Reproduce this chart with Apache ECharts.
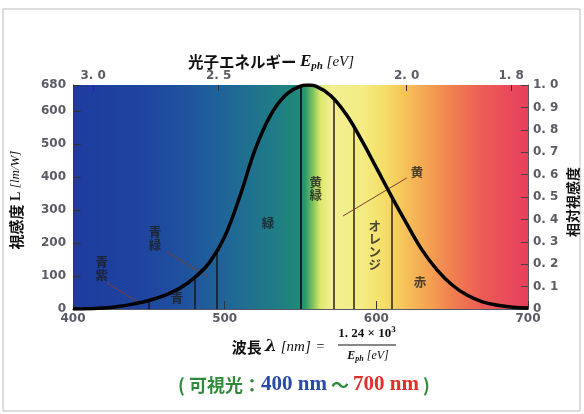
<!DOCTYPE html>
<html><head><meta charset="utf-8">
<script src="https://cdn.jsdelivr.net/npm/echarts@6/dist/echarts.min.js"></script>
<style>html,body{margin:0;padding:0;background:#fff}#c{width:584px;height:414px}</style>
</head><body><div id="c"></div>
<script>
// wavelength samples (nm) and relative luminous efficiency
const wavelengths = [400,410,420,430,440,450,460,470,480,490,500,510,520,530,540,550,555,560,570,580,590,600,610,620,630,640,650,660,670,680,690,700];
const relLum      = [0.0004,0.0012,0.004,0.0116,0.023,0.038,0.06,0.091,0.139,0.208,0.323,0.503,0.71,0.862,0.954,0.995,1.0,0.995,0.952,0.87,0.757,0.631,0.503,0.381,0.265,0.175,0.107,0.061,0.032,0.017,0.0082,0.0041];
// colour band boundaries (nm) and the curve height there
const boundaries   = [450,480,495,550,572,585,610];
const boundaryRel  = [0.038,0.139,0.259,0.995,0.937,0.816,0.503];
// photon energy ticks (eV) on top axis
const energyTicks  = [3.0,2.5,2.0,1.8];
// band names and their positions [nm, relative]
const bandNames  = ['青\n紫','青\n緑','青','緑','黄\n緑','黄','オ\nレ\nン\nジ','赤'];
const bandPos    = [[419,0.178],[454,0.312],[468.6,0.049],[528.6,0.384],[560,0.535],[626.8,0.612],[599,0.281],[628.8,0.121]];
// leader lines [from, to] in [nm, relative]
const leaders = [[[422.4,0.116],[446,0.018]],[[462,0.254],[489,0.143]],[[620,0.585],[578,0.415]]];
// spectrum colours
const spectrumNm  = [400,440,470,500,530,548,553,558,563,570,590,605,620,635,650,670,690,700];
const spectrumCol = ['#1e3c9e','#1f42a0','#1f509e','#1f6598','#1f7a88','#1f8878','#2a9868','#7cc060','#dce86a','#f2f094','#f4ec84','#f5de68','#f5c058','#f4a052','#f08050','#ec5c56','#e9485a','#e8405a'];

const labelColor = '#5b5b66';
const chart = echarts.init(document.getElementById('c'));
const fmtDec = v => v === 0 ? '0' : v.toFixed(1).replace('.', '. ');
const gradient = new echarts.graphic.LinearGradient(0,0,1,0,
  spectrumNm.map((nm,i)=>({offset:(nm-400)/300, color:spectrumCol[i]})));
const topTickLen = 6/224; // short inward tick, in relative units

chart.setOption({
  animation:false,
  backgroundColor:'#fff',
  grid:{left:73,right:56,top:85,bottom:105,show:true,backgroundColor:gradient,borderWidth:0},
  xAxis:[
    {type:'value',position:'bottom',min:400,max:700,interval:100,
     axisLine:{show:true,lineStyle:{color:'#333',width:1}},
     axisTick:{show:true,inside:true,length:8,lineStyle:{color:'#333'}},
     axisLabel:{color:labelColor,fontFamily:'DejaVu Sans',fontWeight:'bold',fontSize:12,margin:4},
     splitLine:{show:false}},
    {type:'value',position:'top',min:400,max:700,
     axisLine:{show:true,lineStyle:{color:'#556',width:1}},
     axisTick:{show:false},
     axisLabel:{color:labelColor,fontFamily:'DejaVu Sans',fontWeight:'bold',fontSize:12,margin:3,
       customValues:energyTicks.map(e=>1240/e),
       formatter:v=>{const e=energyTicks.reduce((a,b)=>Math.abs(1240/b-v)<Math.abs(1240/a-v)?b:a);return e.toFixed(1).replace('.','. ');}},
     splitLine:{show:false}}
  ],
  yAxis:[
    {type:'value',position:'left',min:0,max:680,interval:100,
     axisLine:{show:true,lineStyle:{color:'#334',width:1}},
     axisTick:{show:true,inside:true,length:8,lineStyle:{color:'#333'}},
     axisLabel:{color:labelColor,fontFamily:'DejaVu Sans',fontWeight:'bold',fontSize:12,margin:7},
     splitLine:{show:false}},
    {type:'value',position:'right',min:0,max:1,interval:0.1,
     axisLine:{show:true,lineStyle:{color:'#556',width:1}},
     axisTick:{show:true,inside:true,length:7,lineStyle:{color:'#444'}},
     axisLabel:{color:labelColor,fontFamily:'DejaVu Sans',fontWeight:'bold',fontSize:12,margin:5,formatter:fmtDec},
     splitLine:{show:false}}
  ],
  series:[
    {type:'line',yAxisIndex:1,data:wavelengths.map((w,i)=>[w,relLum[i]]),smooth:0.4,symbol:'none',
     lineStyle:{color:'#000',width:3.5},z:5,
     markLine:{silent:true,symbol:'none',label:{show:false},
       data:boundaries.map((b,i)=>[{coord:[b,0],lineStyle:{color:i>=4?'#3a2a1a':'#1a1a2a',width:i===3?2:1.6,type:'solid'}},{coord:[b,boundaryRel[i]]}])
         .concat(leaders.map(l=>[{coord:l[0],lineStyle:{color:'#7a4030',width:1,type:'solid'}},{coord:l[1]}]))
         .concat(energyTicks.map(e=>[{coord:[1240/e,1],lineStyle:{color:'#333',width:1,type:'solid'}},{coord:[1240/e,1-topTickLen]}]))}},
    {type:'scatter',yAxisIndex:1,symbolSize:0,z:6,
     data:bandPos.map((p,i)=>({value:p,name:bandNames[i]})),
     label:{show:true,position:'inside',formatter:p=>p.name,color:'#1e1e1e',fontSize:12.5,lineHeight:13,
       fontFamily:'Noto Sans CJK JP',fontWeight:'bold'}}
  ],
  graphic:[
    {type:'text',style:{x:271,y:62,align:'center',verticalAlign:'middle',
      text:'{a|光子エネルギー }{e|E}{s|ph}{u| [eV]}',
      rich:{a:{fontFamily:'Noto Sans CJK JP',fontWeight:'bold',fontSize:15.5,fill:'#111'},
            e:{fontFamily:'Liberation Serif',fontStyle:'italic',fontWeight:'bold',fontSize:17,fill:'#111'},
            s:{fontFamily:'Liberation Serif',fontStyle:'italic',fontWeight:'bold',fontSize:11,fill:'#111',padding:[8,0,0,0]},
            u:{fontFamily:'Liberation Serif',fontStyle:'italic',fontSize:15,fill:'#111'}}}},
    {type:'text',rotation:Math.PI/2,x:16,y:200,style:{x:0,y:0,align:'center',verticalAlign:'middle',
      text:'{a|視感度 }{b|L }{c|[lm/W]}',
      rich:{a:{fontFamily:'Noto Sans CJK JP',fontWeight:'bold',fontSize:15,fill:'#111'},
            b:{fontFamily:'Liberation Serif',fontWeight:'bold',fontSize:14,fill:'#111'},
            c:{fontFamily:'Liberation Serif',fontStyle:'italic',fontSize:13,fill:'#111'}}}},
    {type:'text',rotation:Math.PI/2,x:573,y:202,style:{x:0,y:0,align:'center',verticalAlign:'middle',
      text:'相対視感度',font:'bold 14px "Noto Sans CJK JP"',fill:'#111'}},
    {type:'text',style:{x:278,y:347,align:'center',verticalAlign:'middle',
      text:'{a|波長 }{b|λ}{c| [nm] }{d|=}',
      rich:{a:{fontFamily:'Noto Sans CJK JP',fontWeight:'bold',fontSize:15,fill:'#111'},
            b:{fontFamily:'DejaVu Serif',fontStyle:'italic',fontWeight:'bold',fontSize:17,fill:'#111'},
            c:{fontFamily:'Liberation Serif',fontStyle:'italic',fontSize:15,fill:'#111'},
            d:{fontFamily:'Liberation Serif',fontSize:14,fill:'#111',padding:[0,0,0,2]}}}},
    {type:'text',style:{x:367,y:334,align:'center',verticalAlign:'middle',
      text:'{a|1. 24 × 10}{b|3}',
      rich:{a:{fontFamily:'Liberation Serif',fontWeight:'bold',fontSize:13,fill:'#111'},
            b:{fontFamily:'Liberation Serif',fontWeight:'bold',fontSize:9,fill:'#111',padding:[0,0,8,0]}}}},
    {type:'line',shape:{x1:338,y1:345,x2:396,y2:345},style:{stroke:'#111',lineWidth:1}},
    {type:'text',style:{x:368,y:356,align:'center',verticalAlign:'middle',
      text:'{e|E}{s|ph}{u| [eV]}',
      rich:{e:{fontFamily:'Liberation Serif',fontStyle:'italic',fontWeight:'bold',fontSize:12,fill:'#111'},
            s:{fontFamily:'Liberation Serif',fontStyle:'italic',fontWeight:'bold',fontSize:8,fill:'#111',padding:[5,0,0,0]},
            u:{fontFamily:'Liberation Serif',fontStyle:'italic',fontSize:12,fill:'#111'}}}},
    {type:'text',style:{x:304,y:385,align:'center',verticalAlign:'middle',
      text:'{g|( 可視光：}{b|400 nm}{g| ～ }{r|700 nm}{g| )}',
      rich:{g:{fontFamily:'Noto Sans CJK JP',fontWeight:'bold',fontSize:18,fill:'#2f8a3a'},
            b:{fontFamily:'Liberation Serif',fontWeight:'bold',fontSize:21,fill:'#2a4aa8'},
            r:{fontFamily:'Liberation Serif',fontWeight:'bold',fontSize:21,fill:'#e0302a'}}}},
    {type:'rect',shape:{x:3,y:9,width:577,height:402},style:{fill:'none',stroke:'#bbb',lineWidth:1},z:-1}
  ]
});
</script></body></html>
